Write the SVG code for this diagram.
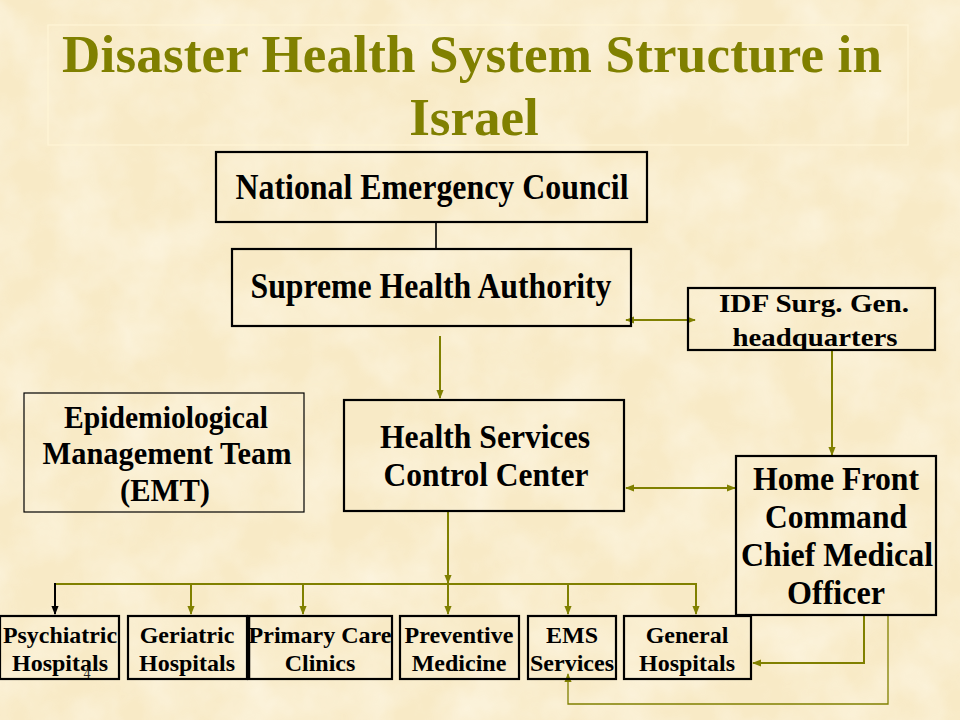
<svg xmlns="http://www.w3.org/2000/svg" width="960" height="720" viewBox="0 0 960 720">
  <defs>
    <filter id="parch" x="0" y="0" width="100%" height="100%">
      <feTurbulence type="fractalNoise" baseFrequency="0.018" numOctaves="4" seed="7" result="n"/>
      <feColorMatrix in="n" type="matrix" values="0 0 0 0 1  0 0 0 0 0.97  0 0 0 0 0.88  0 0 0 -1.6 1.1"/>
    </filter>
    <marker id="ah" viewBox="0 0 10 10" refX="9" refY="5" markerWidth="4.5" markerHeight="4.5" orient="auto-start-reverse" markerUnits="strokeWidth">
      <path d="M0,1 L10,5 L0,9 Z" fill="#808000"/>
    </marker>
    <marker id="ahThin" viewBox="0 0 10 10" refX="9" refY="5" markerWidth="7" markerHeight="7" orient="auto-start-reverse" markerUnits="strokeWidth">
      <path d="M0,1 L10,5 L0,9 Z" fill="#808000"/>
    </marker>
    <marker id="ahBlack" viewBox="0 0 10 10" refX="9" refY="5" markerWidth="4.5" markerHeight="4.5" orient="auto" markerUnits="strokeWidth">
      <path d="M0,1 L10,5 L0,9 Z" fill="#000"/>
    </marker>
  </defs>
  <style>
    .box { fill: none; stroke: #000; stroke-width: 2.2; }
    .thin { stroke-width: 1.2; }
    .t { font-family: "Liberation Serif", "Times New Roman", serif; font-weight: bold; fill: #000; text-anchor: middle; }
    .title { font-family: "Liberation Serif", "Times New Roman", serif; font-weight: bold; fill: #808000; text-anchor: middle; font-size: 53px; }
    .c { fill: none; stroke: #808000; stroke-width: 2; }
    .cthin { fill: none; stroke: #808000; stroke-width: 1.3; }
    .num { font-family: "Liberation Serif", "Times New Roman", serif; font-size: 14px; fill: #222; text-anchor: middle; }
  </style>

  <rect x="0" y="0" width="960" height="720" fill="#f8eac6"/>
  <rect x="0" y="0" width="960" height="720" filter="url(#parch)" opacity="0.55"/>

  <g id="title">
    <rect x="48" y="25" width="860" height="120" fill="none" stroke="#fff5d6" stroke-width="1.2"/>
    <text class="title" x="472" y="72" textLength="820" lengthAdjust="spacing">Disaster Health System Structure in</text>
    <text class="title" x="474" y="135">Israel</text>
  </g>

  <g id="connectors">
    <line x1="436" y1="223" x2="436" y2="249" stroke="#000" stroke-width="1.6"/>
    <line class="c" x1="440" y1="336" x2="440" y2="398" marker-end="url(#ah)"/>
    <line class="c" x1="626" y1="320" x2="695" y2="320" marker-start="url(#ah)" marker-end="url(#ah)"/>
    <line class="c" x1="832" y1="351" x2="832" y2="455" marker-end="url(#ah)"/>
    <line class="c" x1="626" y1="488" x2="735" y2="488" marker-start="url(#ah)" marker-end="url(#ah)"/>
    <line class="c" x1="448" y1="512" x2="448" y2="583" marker-end="url(#ah)"/>
    <line class="c" x1="55" y1="584" x2="697" y2="584"/>
    <line x1="55" y1="583" x2="55" y2="614" stroke="#000" stroke-width="2" marker-end="url(#ahBlack)"/>
    <line class="c" x1="191" y1="584" x2="191" y2="614" marker-end="url(#ah)"/>
    <line class="c" x1="303" y1="584" x2="303" y2="614" marker-end="url(#ah)"/>
    <line class="c" x1="448" y1="584" x2="448" y2="614" marker-end="url(#ah)"/>
    <line class="c" x1="568" y1="584" x2="568" y2="614" marker-end="url(#ah)"/>
    <line class="c" x1="696" y1="583" x2="696" y2="614" marker-end="url(#ah)"/>
    <path class="c" d="M864,616 V663 H753" marker-end="url(#ah)"/>
    <path class="cthin" d="M888,616 V704 H568 V674" marker-end="url(#ahThin)"/>
  </g>

  <g id="nec">
    <rect class="box" x="216" y="152" width="431" height="70" stroke-width="2.5"/>
    <text class="t" x="432" y="199" font-size="35" textLength="393" lengthAdjust="spacingAndGlyphs">National Emergency Council</text>
  </g>

  <g id="sha">
    <rect class="box" x="232" y="249" width="399" height="77"/>
    <text class="t" x="431" y="298" font-size="35" textLength="361" lengthAdjust="spacingAndGlyphs">Supreme Health Authority</text>
  </g>

  <g id="idf">
    <rect class="box" x="688" y="288" width="247" height="62"/>
    <text class="t" x="814" y="312" font-size="26" textLength="190" lengthAdjust="spacingAndGlyphs">IDF Surg. Gen.</text>
    <text class="t" x="815" y="346" font-size="26" textLength="165" lengthAdjust="spacingAndGlyphs">headquarters</text>
  </g>

  <g id="emt">
    <rect class="box thin" x="24" y="393" width="280" height="119"/>
    <text class="t" x="166" y="428" font-size="32" textLength="204" lengthAdjust="spacingAndGlyphs">Epidemiological</text>
    <text class="t" x="167" y="464" font-size="32" textLength="249" lengthAdjust="spacingAndGlyphs">Management Team</text>
    <text class="t" x="165" y="501" font-size="32" textLength="90" lengthAdjust="spacingAndGlyphs">(EMT)</text>
  </g>

  <g id="hscc">
    <rect class="box" x="344" y="400" width="280" height="111" stroke-width="2.5"/>
    <text class="t" x="485" y="448" font-size="34" textLength="210" lengthAdjust="spacingAndGlyphs">Health Services</text>
    <text class="t" x="486" y="486" font-size="34" textLength="205" lengthAdjust="spacingAndGlyphs">Control Center</text>
  </g>

  <g id="hfc">
    <rect class="box" x="736" y="456" width="200" height="159" stroke-width="2.5"/>
    <text class="t" x="836" y="490" font-size="34" textLength="166" lengthAdjust="spacingAndGlyphs">Home Front</text>
    <text class="t" x="836" y="528" font-size="34" textLength="142" lengthAdjust="spacingAndGlyphs">Command</text>
    <text class="t" x="837" y="566" font-size="34" textLength="192" lengthAdjust="spacingAndGlyphs">Chief Medical</text>
    <text class="t" x="836" y="604" font-size="34" textLength="98" lengthAdjust="spacingAndGlyphs">Officer</text>
  </g>

  <g id="psychiatric">
    <rect class="box" x="0" y="616" width="119" height="63"/>
    <text class="t" x="60" y="643" font-size="24" textLength="114" lengthAdjust="spacingAndGlyphs">Psychiatric</text>
    <text class="t" x="60" y="671" font-size="24">Hospitals</text>
  </g>

  <g id="geriatric">
    <rect class="box" x="128" y="616" width="119" height="63"/>
    <text class="t" x="187" y="643" font-size="24">Geriatric</text>
    <text class="t" x="187" y="671" font-size="24">Hospitals</text>
  </g>

  <g id="primary">
    <rect class="box" x="248" y="616" width="144" height="63"/>
    <line x1="248.5" y1="615" x2="248.5" y2="680" stroke="#000" stroke-width="3.5"/>
    <text class="t" x="320" y="643" font-size="24">Primary Care</text>
    <text class="t" x="320" y="671" font-size="24">Clinics</text>
  </g>

  <g id="preventive">
    <rect class="box" x="400" y="616" width="119" height="63"/>
    <text class="t" x="459" y="643" font-size="24">Preventive</text>
    <text class="t" x="459" y="671" font-size="24">Medicine</text>
  </g>

  <g id="ems">
    <rect class="box" x="528" y="616" width="88" height="63"/>
    <text class="t" x="572" y="643" font-size="24">EMS</text>
    <text class="t" x="572" y="671" font-size="24">Services</text>
  </g>

  <g id="general">
    <rect class="box" x="624" y="616" width="127" height="63"/>
    <text class="t" x="687" y="643" font-size="24">General</text>
    <text class="t" x="687" y="671" font-size="24">Hospitals</text>
  </g>

  <text class="num" x="87" y="678">4</text>
</svg>
